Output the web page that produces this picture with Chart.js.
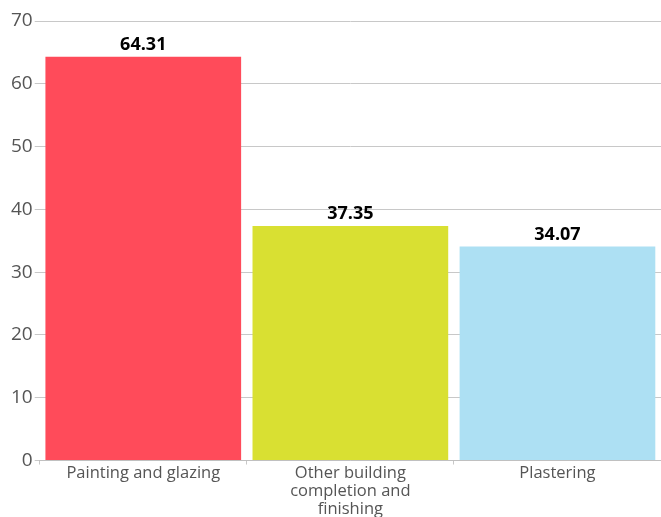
<!DOCTYPE html>
<html>
<head>
<meta charset="utf-8">
<script src="https://cdn.jsdelivr.net/npm/chart.js@4/dist/chart.umd.min.js"></script>
<style>
html,body{margin:0;padding:0;background:#fff;overflow:hidden;}
#wrap{width:661px;height:517px;overflow:hidden;}
</style>
</head>
<body>
<div id="wrap"><canvas id="c" width="661" height="518"></canvas></div>
<script>
const categories = [["Painting and glazing"], ["Other building", "completion and", "finishing"], ["Plastering"]];
const values = [64.31, 37.35, 34.07];
const colors = ["#FF4B5A", "#D9E032", "#ADE0F3"];
const yTicks = [0, 10, 20, 30, 40, 50, 60, 70];

const valueLabels = {
  id: 'valueLabels',
  afterDatasetsDraw(chart) {
    const ctx = chart.ctx;
    const meta = chart.getDatasetMeta(0);
    ctx.save();
    ctx.font = 'bold 18px "Open Sans", sans-serif';
    ctx.fillStyle = '#000';
    ctx.textAlign = 'center';
    ctx.textBaseline = 'bottom';
    meta.data.forEach((bar, i) => {
      ctx.fillText(values[i].toFixed(2), bar.x, bar.y - 3);
    });
    ctx.restore();
  }
};

new Chart(document.getElementById('c'), {
  type: 'bar',
  data: {
    labels: categories,
    datasets: [{
      data: values,
      backgroundColor: colors,
      borderWidth: 0,
      categoryPercentage: 1.0,
      barPercentage: 0.945
    }]
  },
  options: {
    responsive: false,
    animation: false,
    layout: { padding: { top: 21, right: 0, left: 9, bottom: 0 } },
    plugins: { legend: { display: false }, tooltip: { enabled: false } },
    scales: {
      y: {
        min: 0, max: 70,
        afterBuildTicks(axis) { axis.ticks = yTicks.map(v => ({ value: v })); },
        ticks: { color: '#555', font: { family: '"Open Sans", sans-serif', size: 19 }, padding: 2 },
        grid: { color: '#c8c8c8', tickLength: 5, drawTicks: true },
        border: { display: false }
      },
      x: {
        ticks: { color: '#555', font: { family: '"Open Sans", sans-serif', size: 16.5, lineHeight: 1.08 }, padding: 0, maxRotation: 0, autoSkip: false },
        grid: { offset: true, drawOnChartArea: false, drawTicks: true, tickLength: 4, color: '#c8c8c8' },
        border: { display: true, color: '#c0c0c0' }
      }
    }
  },
  plugins: [valueLabels]
});
</script>
</body>
</html>
